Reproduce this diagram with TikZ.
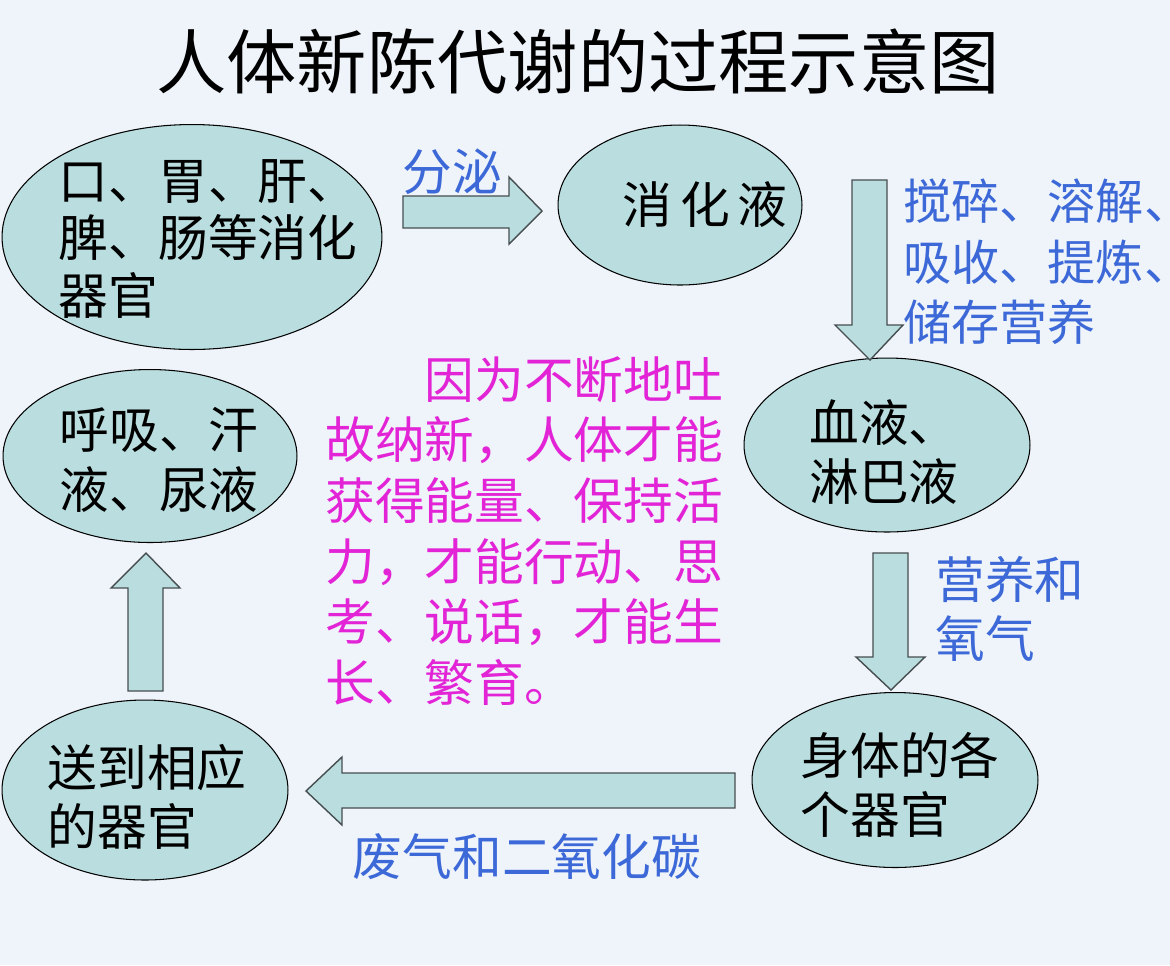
\documentclass[tikz,border=0pt]{standalone}
\usepackage{fontspec}
\setmainfont{Noto Sans CJK SC}
\usetikzlibrary{shapes.geometric}
\definecolor{bgc}{RGB}{239,244,251}
\definecolor{ellfill}{RGB}{186,222,223}
\definecolor{arrline}{RGB}{70,78,80}
\definecolor{bluetxt}{RGB}{60,105,215}
\definecolor{magtxt}{RGB}{226,36,214}
\tikzset{
  ell/.style={ellipse, draw=black, line width=0.6pt, fill=ellfill, inner sep=0pt},
  etext/.style={align=left, inner sep=0pt, font=\fontsize{28.3pt}{34pt}\selectfont},
  btext/.style={align=left, inner sep=0pt, text=bluetxt, font=\fontsize{28.3pt}{34pt}\selectfont},
  mtext/.style={align=left, inner sep=0pt, text=magtxt, font=\fontsize{28.3pt}{34.5pt}\selectfont},
  blockarrow/.style={draw=arrline, line width=0.8pt, fill=ellfill, line join=miter},
}
\begin{document}
\begin{tikzpicture}[x=0.02cm, y=-0.02cm]
\useasboundingbox (0,0) rectangle (1170,965);
\fill[bgc] (0,0) rectangle (1170,965);

% title
\node[inner sep=0pt, font=\fontsize{40pt}{44pt}\selectfont] (title) at (578,62) {人体新陈代谢的过程示意图};

% ellipses
\node[ell, minimum width=7.6cm, minimum height=4.5cm] (e1) at (192,237) {};
\node[etext, font=\fontsize{28.3pt}{33pt}\selectfont] (t1) at (208,239) {口、胃、肝、\\脾、肠等消化\\器官};

\node[ell, minimum width=4.88cm, minimum height=3.2cm] (e2) at (680,205) {};
\node[etext] (t2) at (705,205) {消\hspace{0.15cm}化\hspace{0.15cm}液};

\node[ell, minimum width=5.72cm, minimum height=3.48cm] (e3) at (887,445) {};
\node[etext] (t3) at (884,452) {血液、\\淋巴液};

\node[ell, minimum width=5.72cm, minimum height=3.5cm] (e4) at (895,780) {};
\node[etext] (t4) at (900,785) {身体的各\\个器官};

\node[ell, minimum width=5.72cm, minimum height=3.6cm] (e5) at (145,790) {};
\node[etext] (t5) at (147,797) {送到相应\\的器官};

\node[ell, minimum width=5.88cm, minimum height=3.46cm] (e6) at (150,456) {};
\node[etext] (t6) at (159,460) {呼吸、汗\\液、尿液};

% block arrows
\draw[blockarrow] (403,196) -- (509,196) -- (509,177) -- (542,211) -- (509,244) -- (509,228) -- (403,228) -- cycle;
\draw[blockarrow] (852,180) -- (887,180) -- (887,325) -- (903,325) -- (870,360) -- (835,325) -- (852,325) -- cycle;
\draw[blockarrow] (873,553) -- (908,553) -- (908,657) -- (925,657) -- (891,690) -- (856,657) -- (873,657) -- cycle;
\draw[blockarrow] (735,773) -- (342,773) -- (342,757) -- (306,791) -- (342,825) -- (342,808) -- (735,808) -- cycle;
\draw[blockarrow] (128,691) -- (128,588) -- (111,588) -- (146,553) -- (180,588) -- (163,588) -- (163,691) -- cycle;

% labels
\node[btext] (l1) at (452,172) {分泌};
\node[btext, anchor=west, font=\fontsize{27.4pt}{34.5pt}\selectfont] (l2) at (903,262) {搅碎、溶解、\\吸收、提炼、\\储存营养};
\node[btext, anchor=west] (l3) at (935,609) {营养和\\氧气};
\node[btext] (l4) at (527,857) {废气和二氧化碳};

% magenta paragraph
\node[mtext, anchor=north west] (para) at (325,356) {\hspace{2em}因为不断地吐\\故纳新，人体才能\\获得能量、保持活\\力，才能行动、思\\考、说话，才能生\\长、繁育。};
\end{tikzpicture}
\end{document}
